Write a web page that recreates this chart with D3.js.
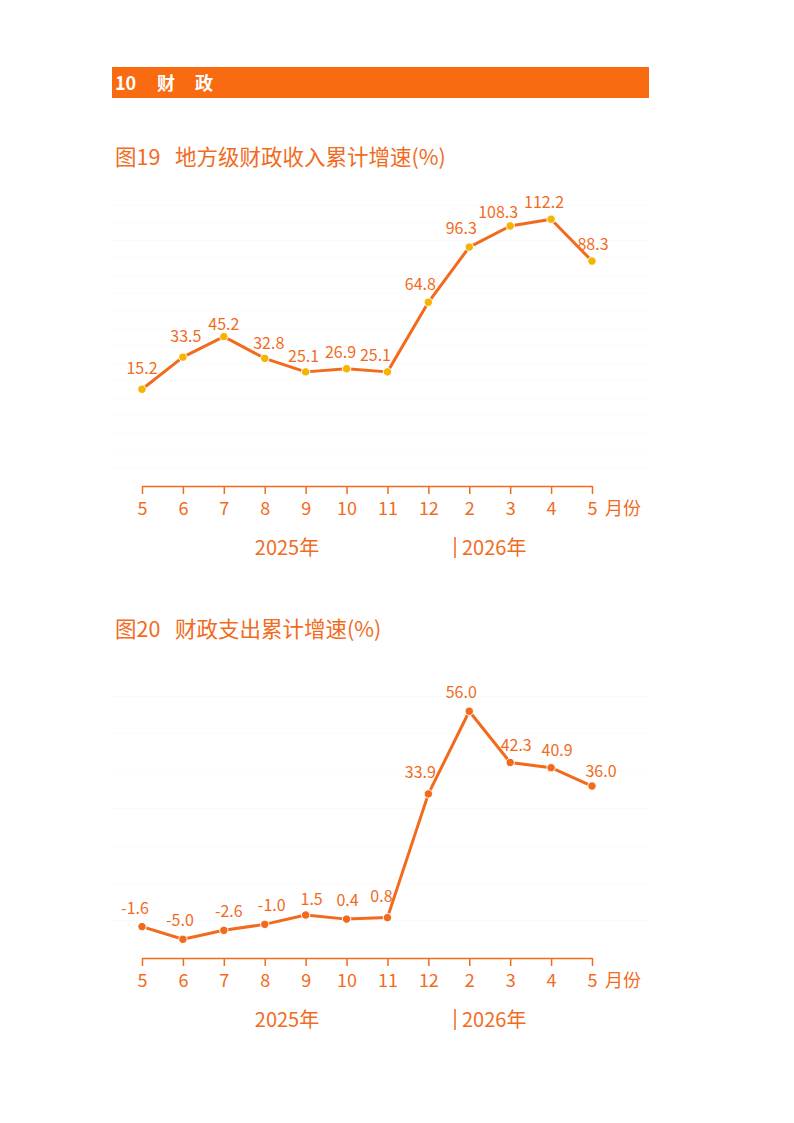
<!DOCTYPE html>
<html>
<head>
<meta charset="utf-8">
<script src="https://cdn.jsdelivr.net/npm/d3@7/dist/d3.min.js"></script>
<style>
  body { margin: 0; background: #fff; }
  svg text { font-family: "Noto Sans CJK SC", "Noto Sans", sans-serif; }
</style>
</head>
<body>
<svg id="page" width="794" height="1123"></svg>
<script>
"use strict";

var months = ["5", "6", "7", "8", "9", "10", "11", "12", "2", "3", "4", "5"];
var revenueGrowth = [15.2, 33.5, 45.2, 32.8, 25.1, 26.9, 25.1, 64.8, 96.3, 108.3, 112.2, 88.3];
var spendingGrowth = [-1.6, -5.0, -2.6, -1.0, 1.5, 0.4, 0.8, 33.9, 56.0, 42.3, 40.9, 36.0];
var yearLabels = ["2025年", "2026年"];

var ORANGE = "#f26b1d";
var svg = d3.select("#page");

// section header bar
svg.append("rect").attr("x", 112).attr("y", 67).attr("width", 537).attr("height", 31).attr("fill", "#f96b10");
var header = svg.append("text").attr("y", 90).attr("fill", "#fff")
  .attr("font-size", 18).attr("font-weight", "bold");
header.append("tspan").attr("x", 115).text("10");
header.append("tspan").attr("x", 157).text("财");
header.append("tspan").attr("x", 195).text("政");

function drawChart(opts) {
  var g = svg.append("g");

  var title = g.append("text").attr("y", opts.titleY)
    .attr("fill", ORANGE).attr("font-size", 21.5);
  title.append("tspan").attr("x", 115).text(opts.title[0]);
  title.append("tspan").attr("x", 175).text(opts.title[1]);

  var x = d3.scalePoint().domain(d3.range(months.length)).range([142, 592]);
  var y = d3.scaleLinear().domain(opts.domain).range([opts.axisY, opts.topY]);

  // very faint background grid
  g.append("g").selectAll("line")
    .data(d3.range(opts.domain[0] + 10, opts.domain[1] + 1, 10))
    .enter().append("line")
    .attr("x1", 112).attr("x2", 650)
    .attr("y1", function (d) { return y(d); }).attr("y2", function (d) { return y(d); })
    .attr("stroke", "#fbfbfb").attr("stroke-width", 1);

  // x axis with ticks pointing down
  var axis = g.append("g").attr("transform", "translate(0," + opts.axisY + ")")
    .call(d3.axisBottom(x).tickSize(8).tickSizeOuter(0).tickFormat(function (i) { return months[i]; }));
  axis.select(".domain").attr("stroke", ORANGE).attr("stroke-width", 1.5);
  axis.selectAll(".tick line").attr("stroke", ORANGE).attr("stroke-width", 1.5);
  axis.selectAll(".tick text").attr("fill", ORANGE).attr("font-size", 18)
    .attr("y", 29).attr("dy", 0)
    .attr("font-family", "\"Noto Sans CJK SC\", sans-serif");

  g.append("text").attr("x", 605).attr("y", opts.axisY + 29)
    .attr("fill", ORANGE).attr("font-size", 18).text("月份");

  g.append("text").attr("x", 287).attr("y", opts.axisY + 69).attr("text-anchor", "middle")
    .attr("fill", ORANGE).attr("font-size", 20).text(yearLabels[0]);
  g.append("line").attr("x1", 455).attr("x2", 455)
    .attr("y1", opts.axisY + 51).attr("y2", opts.axisY + 72)
    .attr("stroke", ORANGE).attr("stroke-width", 1.5);
  g.append("text").attr("x", 462).attr("y", opts.axisY + 69)
    .attr("fill", ORANGE).attr("font-size", 20).text(yearLabels[1]);

  var line = d3.line()
    .x(function (d, i) { return x(i); })
    .y(function (d) { return y(d); });

  g.append("path").datum(opts.values)
    .attr("d", line).attr("fill", "none")
    .attr("stroke", ORANGE).attr("stroke-width", 3).attr("stroke-linejoin", "round");

  g.selectAll("circle.pt").data(opts.values).enter().append("circle")
    .attr("class", "pt")
    .attr("cx", function (d, i) { return x(i); })
    .attr("cy", function (d) { return y(d); })
    .attr("r", 4.2)
    .attr("fill", opts.markerColor)
    .attr("stroke", "#fff").attr("stroke-width", 1);

  // value labels sit above each point, nudged like the source layout
  g.selectAll("text.lbl").data(opts.values).enter().append("text")
    .attr("class", "lbl")
    .attr("x", function (d, i) { return x(i) + opts.labelDx[i]; })
    .attr("y", function (d, i) { return y(d) - opts.labelRise[i]; })
    .attr("text-anchor", "middle")
    .attr("fill", ORANGE).attr("font-size", 16)
    .text(function (d) { return d.toFixed(1); });
}

drawChart({
  title: ["图19", "地方级财政收入累计增速(%)"],
  titleY: 165,
  values: revenueGrowth,
  domain: [-40, 120],
  axisY: 486,
  topY: 205.5,
  markerColor: "#f5b400",
  labelDx: [0, 3, 0, 4, -2, -6, -12, -8, -8, -12, -7, 1],
  labelRise: [15, 15, 7, 9, 10, 11, 11, 12, 13, 8, 11, 11]
});

drawChart({
  title: ["图20", "财政支出累计增速(%)"],
  titleY: 637,
  values: spendingGrowth,
  domain: [-10, 60],
  axisY: 958,
  topY: 696.3,
  markerColor: ORANGE,
  labelDx: [-7, -3, 5, 7, 6, 1, -6, -8, -8, 6, 6, 9],
  labelRise: [13, 13, 13, 13, 10, 13, 16, 16, 13, 11, 12, 9]
});
</script>
</body>
</html>
